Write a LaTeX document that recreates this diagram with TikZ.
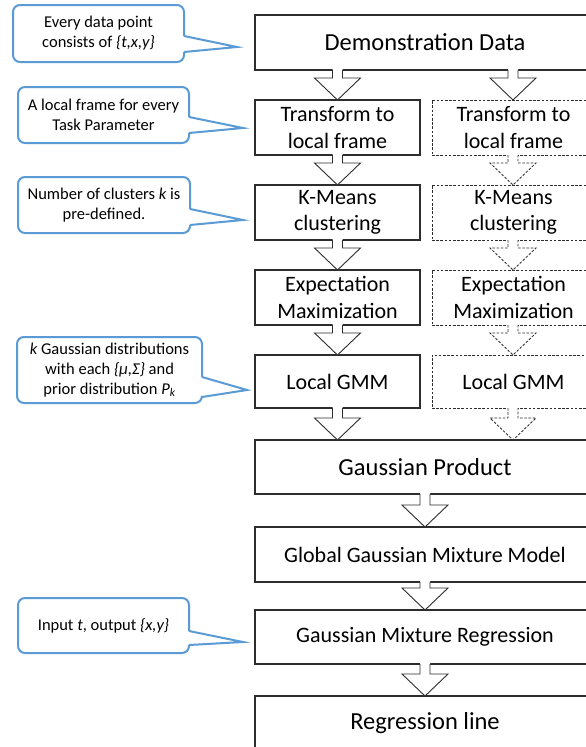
\documentclass[tikz,border=0pt]{standalone}
\usepackage{fontspec}
\setmainfont{Carlito}
\usetikzlibrary{calc}

\definecolor{calloutblue}{RGB}{91,155,213}
\definecolor{boxline}{RGB}{45,45,45}

\tikzset{
  stage/.style={draw=boxline, line width=1.1pt, fill=white, align=center,
    inner sep=0pt, outer sep=0pt, text=black,
    font=\fontsize{22}{26.5}\selectfont},
  wide/.style={stage, minimum width=340pt},
  col/.style={stage, minimum width=165pt, minimum height=55pt},
  ghost/.style={dash pattern=on 2.6pt off 1.6pt, line width=0.85pt},
  note/.style={align=center, inner sep=0pt, outer sep=0pt, text=black,
    font=\fontsize{16.5}{20}\selectfont},
  callout/.style={draw=calloutblue, line width=2pt, rounded corners=7pt},
  flow/.style={draw=boxline, line width=0.9pt, line join=miter}
}

% hollow block arrow from the point #2 down to the point #3 (tip)
\newcommand{\flowarrow}[3][]{%
  \path[fill=white] let \p1=#2, \p2=#3 in
    (\x2-5pt,\y1+0.9pt) -- (\x2-5pt,\y2+22pt) -- (\x2-23pt,\y2+22pt) -- (\x2,\y2)
    -- (\x2+23pt,\y2+22pt) -- (\x2+5pt,\y2+22pt) -- (\x2+5pt,\y1+0.9pt) -- cycle;
  \draw[flow,#1] let \p1=#2, \p2=#3 in
    (\x2-5pt,\y1) -- (\x2-5pt,\y2+22pt) -- (\x2-23pt,\y2+22pt) -- (\x2,\y2)
    -- (\x2+23pt,\y2+22pt) -- (\x2+5pt,\y2+22pt) -- (\x2+5pt,\y1);
}

% rounded callout around node #1, pointer base from #2 to #3 below its top edge, tip #4
\newcommand{\calloutframe}[4]{%
  \draw[callout] ([yshift=-#2pt]#1.north east) -- (#1.north east) -- (#1.north west)
    -- (#1.south west) -- (#1.south east) -- ([yshift=-#3pt]#1.north east);
  \draw[callout, sharp corners, line join=miter]
    ([yshift=-#2pt]#1.north east) -- (#4) -- ([yshift=-#3pt]#1.north east);
}

\begin{document}
\begin{tikzpicture}[x=1pt, y=-1pt]
\useasboundingbox (0,0) rectangle (586,747);
\clip (0,0) rectangle (586,747);
\fill[white] (0,0) rectangle (586,747);

% main flow
\node[wide, minimum height=55pt, font=\fontsize{24.5}{29}\selectfont] (demo) at (425,42.5) {Demonstration Data};

\node[col] (tl) at (337.5,127.5) {Transform to\\local frame};
\node[col] (kl) at (337.5,212.5) {K-Means\\clustering};
\node[col] (el) at (337.5,297.5) {Expectation\\Maximization};
\node[col, minimum height=53pt] (gl) at (337.5,381.5) {Local GMM};

\node[col, ghost, minimum width=163pt] (tr) at (513.5,127.5) {Transform to\\local frame};
\node[col, ghost, minimum width=163pt] (kr) at (513.5,212.5) {K-Means\\clustering};
\node[col, ghost, minimum width=163pt] (er) at (513.5,297.5) {Expectation\\Maximization};
\node[col, ghost, minimum width=163pt, minimum height=53pt] (gr) at (513.5,381.5) {Local GMM};

\node[wide, minimum height=54pt, font=\fontsize{24.5}{29}\selectfont] (prod) at (425,467) {Gaussian Product};
\node[wide, minimum height=55pt] (ggmm) at (425,554.5) {Global Gaussian Mixture Model};
\node[wide, minimum height=54pt] (gmr) at (425,637) {Gaussian Mixture Regression};
\node[wide, minimum height=55pt, font=\fontsize{24.5}{29}\selectfont] (line) at (425,723.5) {Regression line};

% block arrows
\flowarrow{(demo.south -| tl.north)}{(tl.north)}
\flowarrow{(demo.south -| 513,0)}{(tr.north -| 513,0)}
\flowarrow{(tl.south)}{(kl.north)}
\flowarrow{(kl.south)}{(el.north)}
\flowarrow{(el.south)}{(gl.north)}
\flowarrow{(gl.south)}{(prod.north -| gl.south)}
\flowarrow[ghost]{(tr.south -| 513,0)}{(kr.north -| 513,0)}
\flowarrow[ghost]{(kr.south -| 513,0)}{(er.north -| 513,0)}
\flowarrow[ghost]{(er.south -| 513,0)}{(gr.north -| 513,0)}
\flowarrow[ghost]{(gr.south -| 513,0)}{(prod.north -| 513,0)}
\flowarrow{(prod.south)}{(ggmm.north)}
\flowarrow{(ggmm.south)}{(gmr.north)}
\flowarrow{(gmr.south)}{(line.north)}

% notes
\node[note, minimum width=171pt, minimum height=57pt] (n1) at (98.5,33.5)
  {Every data point\\consists of {\itshape\{t,x,y\}}};
\coordinate (p1) at (237,47);
\calloutframe{n1}{31}{47}{p1}

\node[note, minimum width=171pt, minimum height=56pt] (n2) at (103.5,115)
  {A local frame for every\\Task Parameter};
\coordinate (p2) at (243,128);
\calloutframe{n2}{30}{46}{p2}

\node[note, minimum width=172pt, minimum height=56pt] (n3) at (104,205)
  {Number of clusters {\itshape k} is\\pre-defined.};
\coordinate (p3) at (243,220);
\calloutframe{n3}{32}{48}{p3}

\node[note, minimum width=185pt, minimum height=66pt] (n4) at (109.5,370)
  {{\itshape k} Gaussian distributions\\with each {\itshape\{μ,Σ\}} and\\prior distribution {\itshape P\textsubscript{k}}};
\coordinate (p4) at (247,390);
\calloutframe{n4}{40}{60}{p4}

\node[note, minimum width=171pt, minimum height=55pt] (n5) at (103.5,625.5)
  {Input {\itshape t}, output {\itshape\{x,y\}}};
\coordinate (p5) at (243,642);
\calloutframe{n5}{33}{47}{p5}
\end{tikzpicture}
\end{document}
